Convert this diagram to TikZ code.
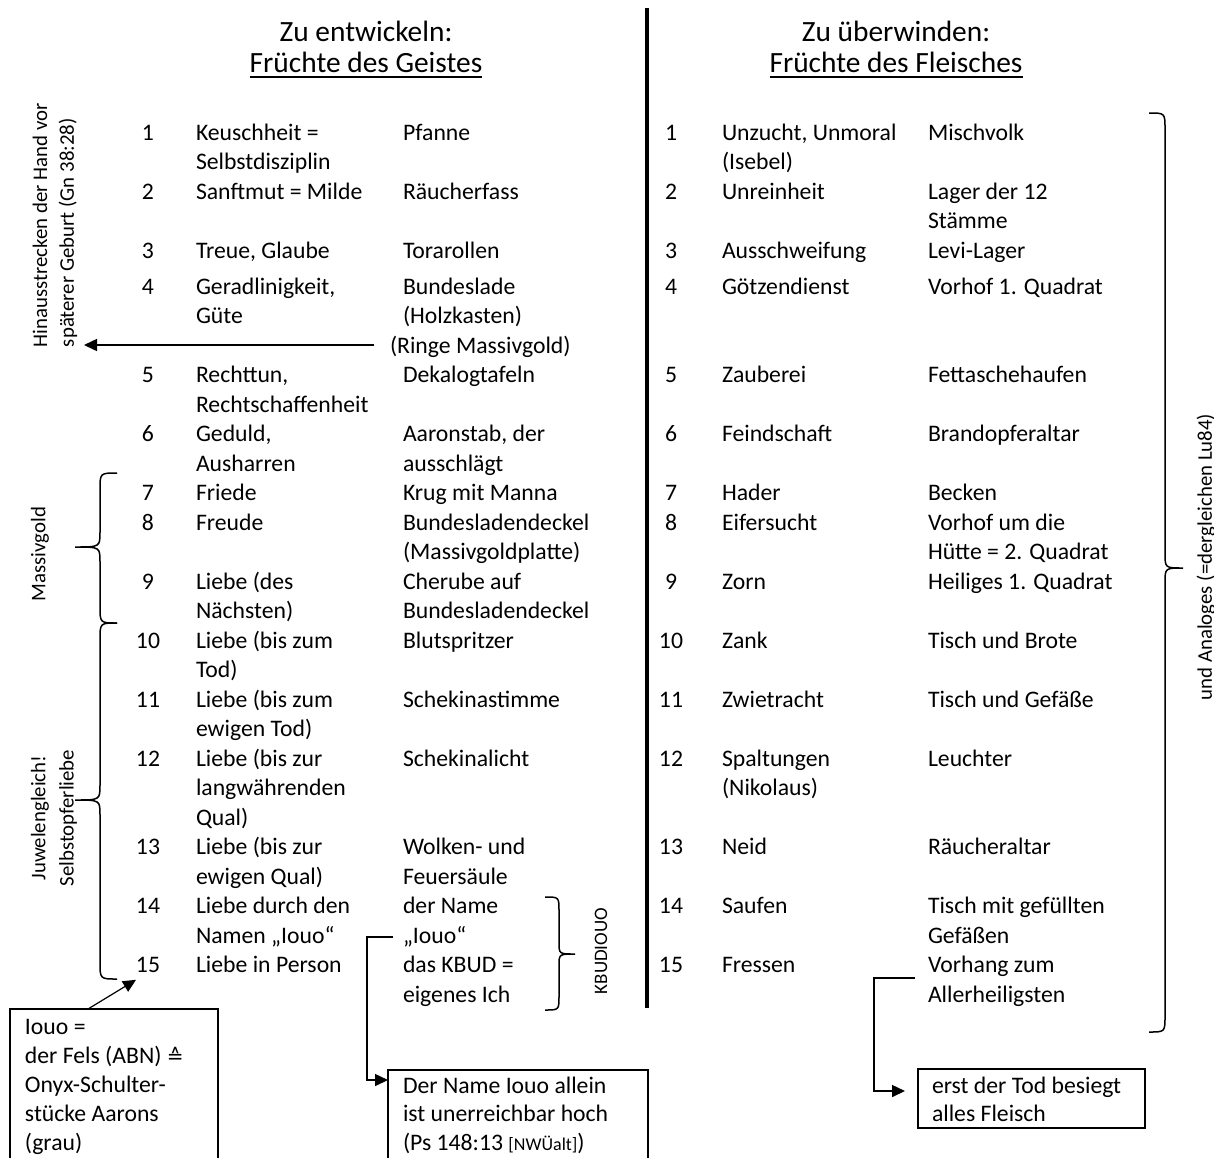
\documentclass[tikz,border=0pt]{standalone}
\usepackage{fontspec}
\setmainfont{Carlito}
\newfontfamily\dejavu{DejaVu Sans}
\usetikzlibrary{arrows.meta}
% stacked lines whose baseline is the baseline of the first line
\newcommand{\stk}[1]{\vtop{\let\\\cr\halign{##\hfil\cr#1\crcr}}}

\begin{document}
\begin{tikzpicture}[x=0.5pt,y=-0.5pt,
  every node/.style={inner sep=0pt, outer sep=0pt},
  cell/.style={anchor=base west, font=\fontsize{11.85}{14.75}\selectfont},
  num/.style={anchor=base, font=\fontsize{11.85}{14.75}\selectfont},
  head/.style={anchor=base, font=\fontsize{14.7}{18}\selectfont},
  side/.style={rotate=90, font=\fontsize{10.4}{12.5}\selectfont},
  bracket/.style={line width=0.75pt},
  link/.style={line width=0.75pt, -{Triangle[length=6.5pt,width=6pt]}},
  frame/.style={draw, line width=1pt, anchor=north west}
]
\useasboundingbox (0,0) rectangle (1214,1157);

% headings
\node[head] (hl1) at (366,41) {Zu entwickeln:};
\node[head] (hl2) at (366,72) {Früchte des Geistes};
\node[head] (hr1) at (896,41) {Zu überwinden:};
\node[head] (hr2) at (896,72) {Früchte des Fleisches};
\draw[line width=0.9pt] ([yshift=-2.4pt]hl2.base west) -- ([yshift=-2.4pt]hl2.base east);
\draw[line width=0.9pt] ([yshift=-2.4pt]hr2.base west) -- ([yshift=-2.4pt]hr2.base east);

% dividing line
\coordinate (divtop) at (647,8);
\coordinate (divbot) at (647,1008);
\draw[line width=2pt] (divtop) -- (divbot);

% row numbers
\foreach \i/\y in {1/140,2/199,3/258,4/294,5/382.5,6/441.5,7/500.5,8/530,9/589,10/648,11/707,12/766,13/854.5,14/913.5,15/972.5}{
  \node[num] (ln\i) at (148,\y) {\i};
  \node[num] (rn\i) at (671,\y) {\i};
}

% fruits of the spirit
\node[cell] (la1)  at (196,140)   {\stk{Keuschheit =\\Selbstdisziplin}};
\node[cell] (la2)  at (196,199)   {Sanftmut = Milde};
\node[cell] (la3)  at (196,258)   {Treue, Glaube};
\node[cell] (la4)  at (196,294)   {\stk{Geradlinigkeit,\\Güte}};
\node[cell] (la5)  at (196,382.5) {\stk{Rechttun,\\Rechtschaffenheit}};
\node[cell] (la6)  at (196,441.5) {\stk{Geduld,\\Ausharren}};
\node[cell] (la7)  at (196,500.5) {Friede};
\node[cell] (la8)  at (196,530)   {Freude};
\node[cell] (la9)  at (196,589)   {\stk{Liebe (des\\Nächsten)}};
\node[cell] (la10) at (196,648)   {\stk{Liebe (bis zum\\Tod)}};
\node[cell] (la11) at (196,707)   {\stk{Liebe (bis zum\\ewigen Tod)}};
\node[cell] (la12) at (196,766)   {\stk{Liebe (bis zur\\langwährenden\\Qual)}};
\node[cell] (la13) at (196,854.5) {\stk{Liebe (bis zur\\ewigen Qual)}};
\node[cell] (la14) at (196,913.5) {\stk{Liebe durch den\\Namen „Iouo“}};
\node[cell] (la15) at (196,972.5) {Liebe in Person};

\node[cell] (lb1)  at (403,140)   {Pfanne};
\node[cell] (lb2)  at (403,199)   {Räucherfass};
\node[cell] (lb3)  at (403,258)   {Torarollen};
\node[cell] (lb4)  at (403,294)   {\stk{Bundeslade\\(Holzkasten)}};
\node[cell] (lb4r) at (390,353)   {(Ringe Massivgold)};
\node[cell] (lb5)  at (403,382.5) {Dekalogtafeln};
\node[cell] (lb6)  at (403,441.5) {\stk{Aaronstab, der\\ausschlägt}};
\node[cell] (lb7)  at (403,500.5) {Krug mit Manna};
\node[cell] (lb8)  at (403,530)   {\stk{Bundesladendeckel\\(Massivgoldplatte)}};
\node[cell] (lb9)  at (403,589)   {\stk{Cherube auf\\Bundesladendeckel}};
\node[cell] (lb10) at (403,648)   {Blutspritzer};
\node[cell] (lb11) at (403,707)   {Schekinastimme};
\node[cell] (lb12) at (403,766)   {Schekinalicht};
\node[cell] (lb13) at (403,854.5) {\stk{Wolken- und\\Feuersäule}};
\node[cell] (lb14) at (403,913.5) {\stk{der Name\\„Iouo“}};
\node[cell] (lb15) at (403,972.5) {\stk{das KBUD =\\eigenes Ich}};

% fruits of the flesh
\node[cell] (ra1)  at (722,140)   {\stk{Unzucht, Unmoral\\(Isebel)}};
\node[cell] (ra2)  at (722,199)   {Unreinheit};
\node[cell] (ra3)  at (722,258)   {Ausschweifung};
\node[cell] (ra4)  at (722,294)   {Götzendienst};
\node[cell] (ra5)  at (722,382.5) {Zauberei};
\node[cell] (ra6)  at (722,441.5) {Feindschaft};
\node[cell] (ra7)  at (722,500.5) {Hader};
\node[cell] (ra8)  at (722,530)   {Eifersucht};
\node[cell] (ra9)  at (722,589)   {Zorn};
\node[cell] (ra10) at (722,648)   {Zank};
\node[cell] (ra11) at (722,707)   {Zwietracht};
\node[cell] (ra12) at (722,766)   {\stk{Spaltungen\\(Nikolaus)}};
\node[cell] (ra13) at (722,854.5) {Neid};
\node[cell] (ra14) at (722,913.5) {Saufen};
\node[cell] (ra15) at (722,972.5) {Fressen};

\node[cell] (rb1)  at (928,140)   {Mischvolk};
\node[cell] (rb2)  at (928,199)   {\stk{Lager der 12\\Stämme}};
\node[cell] (rb3)  at (928,258)   {Levi-Lager};
\node[cell] (rb4)  at (928,294)   {Vorhof 1. Quadrat};
\node[cell] (rb5)  at (928,382.5) {Fettaschehaufen};
\node[cell] (rb6)  at (928,441.5) {Brandopferaltar};
\node[cell] (rb7)  at (928,500.5) {Becken};
\node[cell] (rb8)  at (928,530)   {\stk{Vorhof um die\\Hütte = 2. Quadrat}};
\node[cell] (rb9)  at (928,589)   {Heiliges 1. Quadrat};
\node[cell] (rb10) at (928,648)   {Tisch und Brote};
\node[cell] (rb11) at (928,707)   {Tisch und Gefäße};
\node[cell] (rb12) at (928,766)   {Leuchter};
\node[cell] (rb13) at (928,854.5) {Räucheraltar};
\node[cell] (rb14) at (928,913.5) {\stk{Tisch mit gefüllten\\Gefäßen}};
\node[cell] (rb15) at (928,972.5) {\stk{Vorhang zum\\Allerheiligsten}};

% side labels
\node[side, anchor=west] (hin1) at (40,347) {Hinausstrecken der Hand vor};
\node[side, anchor=west] (hin2) at (68,347) {späterer Geburt (Gn 38:28)};
\node[side] (massiv) at (40,554) {Massivgold};
\node[side] (juw1) at (40,818) {Juwelengleich!};
\node[side] (juw2) at (68,818) {Selbstopferliebe};
\node[side, font=\fontsize{9.5}{11}\selectfont] (kbud) at (601,951) {KBUDIOUO};
\node[side] (analog) at (1206,557) {und Analoges (=dergleichen Lu84)};

% curly brackets
\draw[bracket] (117,473) .. controls (100,473) .. (100,490) -- (100,532)
  .. controls (100,547) .. (75,547) .. controls (100,547) .. (100,562)
  -- (100,606) .. controls (100,623) .. (117,623);
\draw[bracket] (117,623) .. controls (100,623) .. (100,640) -- (100,785)
  .. controls (100,800) .. (75,800) .. controls (100,800) .. (100,815)
  -- (100,962) .. controls (100,979) .. (117,979);
\draw[bracket] (545,897) .. controls (559,897) .. (559,911) -- (559,942)
  .. controls (559,954) .. (575,954) .. controls (559,954) .. (559,966)
  -- (559,996) .. controls (559,1010) .. (545,1010);
\draw[bracket] (1149,113) .. controls (1165,113) .. (1165,129) -- (1165,553)
  .. controls (1165,568) .. (1183,568) .. controls (1165,568) .. (1165,583)
  -- (1165,1016) .. controls (1165,1032) .. (1149,1032);

% note boxes
\node[frame, minimum width=104pt, minimum height=80pt] (box1) at (10,1009) {};
\node[cell, font=\fontsize{11.85}{14.5}\selectfont] (box1t) at (25,1034)
  {\stk{Iouo =\\der Fels (ABN) {\dejavu\fontsize{10}{12}\selectfont ≙}\\Onyx-Schulter-\\stücke Aarons\\(grau)}};
\node[frame, minimum width=130pt, minimum height=50pt] (box2) at (388,1070) {};
\node[cell, font=\fontsize{11.85}{14.25}\selectfont] (box2t) at (403,1093)
  {\stk{Der Name Iouo allein\\ist unerreichbar hoch\\(Ps 148:13 {\fontsize{9}{11}\selectfont[NWÜalt]})}};
\node[frame, minimum width=113.5pt, minimum height=29.5pt] (box3) at (918,1069) {};
\node[cell, font=\fontsize{11.85}{14}\selectfont] (box3t) at (932,1093)
  {\stk{erst der Tod besiegt\\alles Fleisch}};

% connectors
\coordinate (ringstart) at (374,345);
\coordinate (hintip) at (84,345);
\draw[link] (ringstart) -- (hintip);

\coordinate (box1src) at (88,1009);
\draw[line width=0.6pt, -{Triangle[length=6.5pt,width=6pt]}, shorten >=7pt] (box1src) -- (ln15.base);

\coordinate (namesrc) at (393,937);
\draw[link] (namesrc) -- ++(-26,0) |- ([yshift=-5pt]box2.north west);

\coordinate (vorhangsrc) at (915,978);
\draw[link, shorten >=6.5pt] (vorhangsrc) -- ++(-41,0) |- ([yshift=3.75pt]box3.west);
\end{tikzpicture}
\end{document}
